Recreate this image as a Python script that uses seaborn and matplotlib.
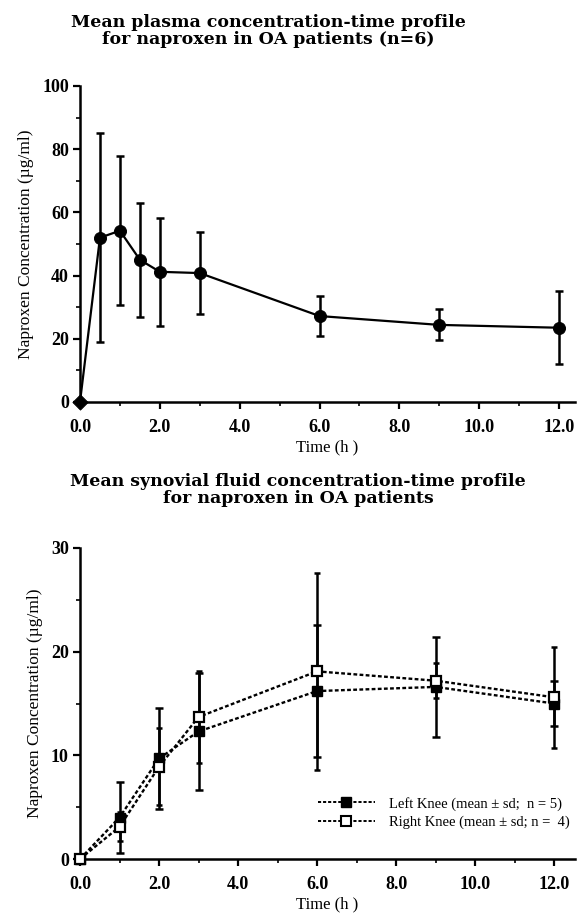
import numpy as np
import pandas as pd
import matplotlib
matplotlib.use("Agg")
import matplotlib.pyplot as plt
import seaborn as sns
from matplotlib.lines import Line2D
from matplotlib.ticker import MultipleLocator

# ---- data ----
plasma_time = [0.0, 0.5, 1.0, 1.5, 2.0, 3.0, 6.0, 9.0, 12.0]
plasma_mean = [0.0, 52.0, 54.2, 45.0, 41.2, 40.8, 27.2, 24.4, 23.5]
plasma_sd = [0.0, 33.0, 23.5, 18.0, 17.0, 13.0, 6.3, 4.9, 11.5]

syn_time = [0.0, 1.0, 2.0, 3.0, 6.0, 9.0, 12.0]
left_mean = [0.0, 4.0, 9.7, 12.3, 16.2, 16.6, 15.0]
left_sd = [0.0, 3.4, 4.9, 5.6, 6.4, 4.8, 2.2]
right_mean = [0.0, 3.1, 8.9, 13.7, 18.1, 17.2, 15.6]
right_sd = [0.0, 1.4, 3.7, 4.4, 9.5, 1.7, 4.85]

title_top = "Mean plasma concentration-time profile\nfor naproxen in OA patients (n=6)"
title_bot = "Mean synovial fluid concentration-time profile\nfor naproxen in OA patients"
ylabel = "Naproxen Concentration (\u00b5g/ml)"
xlabel = "Time (h )"
left_label = "Left Knee (mean \u00b1 sd;  n = 5)"
right_label = "Right Knee (mean \u00b1 sd; n =  4)"

sns.set_theme(style="ticks")
plt.rcParams["font.family"] = ["Liberation Serif", "DejaVu Serif"]
plt.rcParams["xtick.direction"] = "out"
plt.rcParams["ytick.direction"] = "out"
plt.rcParams["text.color"] = "black"
plt.rcParams["axes.labelcolor"] = "black"

W, H = 577, 917
fig = plt.figure(figsize=(W / 100, H / 100), dpi=100)

def box(l, r, b, t):
    return [l / W, (H - b) / H, (r - l) / W, (b - t) / H]

ax1 = fig.add_axes(box(80, 575, 402, 86))
ax2 = fig.add_axes(box(80, 575, 859, 548))

def style_axis(ax, ymax, ymaj, ymin, xmax):
    ax.set_xlim(0, xmax)
    ax.set_ylim(0, ymax)
    ax.xaxis.set_minor_locator(MultipleLocator(1))
    ax.yaxis.set_major_locator(MultipleLocator(ymaj))
    ax.yaxis.set_minor_locator(MultipleLocator(ymin))
    xt = np.arange(0, 12.1, 2)
    ax.set_xticks(xt)
    ax.set_xticklabels([f"{v:.1f}" for v in xt])
    ax.tick_params(axis="x", which="major", pad=7)
    ax.tick_params(axis="y", which="major", pad=3)
    ax.tick_params(axis="both", which="major", length=5, width=1.6, labelsize=13,
                   color="black", labelcolor="black")
    ax.tick_params(axis="both", which="minor", length=3, width=1.2, color="black")
    for s in ["top", "right"]:
        ax.spines[s].set_visible(False)
    for s in ["left", "bottom"]:
        ax.spines[s].set_linewidth(1.8)
        ax.spines[s].set_color("black")
    ax.set_xlabel(xlabel, fontsize=12, labelpad=3, color="black")
    ax.set_ylabel(ylabel, fontsize=12.5, labelpad=6, color="black")
    for lab in ax.get_xticklabels() + ax.get_yticklabels():
        lab.set_fontweight("bold")

# ---- top panel ----
dfp = pd.DataFrame({"t": plasma_time, "c": plasma_mean, "sd": plasma_sd})
ax1.errorbar(dfp["t"][1:], dfp["c"][1:], yerr=dfp["sd"][1:], fmt="none", ecolor="black",
             elinewidth=1.8, capsize=3.2, capthick=1.8, zorder=2)
sns.lineplot(data=dfp, x="t", y="c", ax=ax1, color="black", linewidth=1.6, zorder=3)
sns.scatterplot(data=dfp.iloc[1:], x="t", y="c", ax=ax1, color="black", s=75,
                marker="o", edgecolor="black", zorder=4)
sns.scatterplot(data=dfp.iloc[:1], x="t", y="c", ax=ax1, color="black", s=60,
                marker="D", edgecolor="black", zorder=5)
style_axis(ax1, 100, 20, 10, 12.4)
for c in ax1.collections:
    c.set_clip_on(False)

# ---- bottom panel ----
dfs = pd.DataFrame({
    "t": syn_time * 2,
    "c": left_mean + right_mean,
    "sd": left_sd + right_sd,
    "knee": ["Left"] * len(syn_time) + ["Right"] * len(syn_time),
})
dl = dfs[dfs.knee == "Left"]
dr = dfs[dfs.knee == "Right"]
ax2.errorbar(dl["t"][1:], dl["c"][1:], yerr=dl["sd"][1:], fmt="none", ecolor="black",
             elinewidth=1.8, capsize=3.2, capthick=1.8, zorder=2)
ax2.errorbar(dr["t"][1:], dr["c"][1:], yerr=dr["sd"][1:], fmt="none", ecolor="black",
             elinewidth=1.8, capsize=2.5, capthick=1.8, zorder=2)
dots = (1.6, 1.0)
sns.lineplot(data=dfs, x="t", y="c", hue="knee", style="knee",
             palette={"Left": "black", "Right": "black"},
             dashes={"Left": dots, "Right": dots}, ax=ax2,
             linewidth=1.7, legend=False, zorder=3)
ax2.plot(dl["t"], dl["c"], linestyle="none", marker="s", markersize=7.5,
         markerfacecolor="black", markeredgecolor="black", zorder=4, clip_on=False)
ax2.plot(dr["t"], dr["c"], linestyle="none", marker="s", markersize=7.5,
         markerfacecolor="white", markeredgecolor="black", markeredgewidth=1.6,
         zorder=5, clip_on=False)
style_axis(ax2, 30, 10, 5, 12.53)

handles = [
    Line2D([], [], color="black", linestyle=(0, dots), linewidth=1.4, marker="s",
           markersize=7, markerfacecolor="black", markeredgecolor="black"),
    Line2D([], [], color="black", linestyle=(0, dots), linewidth=1.4, marker="s",
           markersize=7, markerfacecolor="white", markeredgecolor="black",
           markeredgewidth=1.5),
]
leg = ax2.legend(handles, [left_label, right_label], loc="center left",
                 bbox_to_anchor=(238 / 495, (859 - 813) / 311), frameon=False,
                 handlelength=3.9, handletextpad=1.0, fontsize=10.5, labelspacing=0.35,
                 borderpad=0, borderaxespad=0)
for t in leg.get_texts():
    t.set_color("black")

fig.text(268 / W, 1 - 31 / H, title_top, ha="center", va="center", fontsize=12.5,
         fontweight="bold", linespacing=1.05, family="DejaVu Serif", color="black")
fig.text(298 / W, 1 - 490 / H, title_bot, ha="center", va="center", fontsize=12.5,
         fontweight="bold", linespacing=1.05, family="DejaVu Serif", color="black")

fig.savefig("out.png", dpi=100)
